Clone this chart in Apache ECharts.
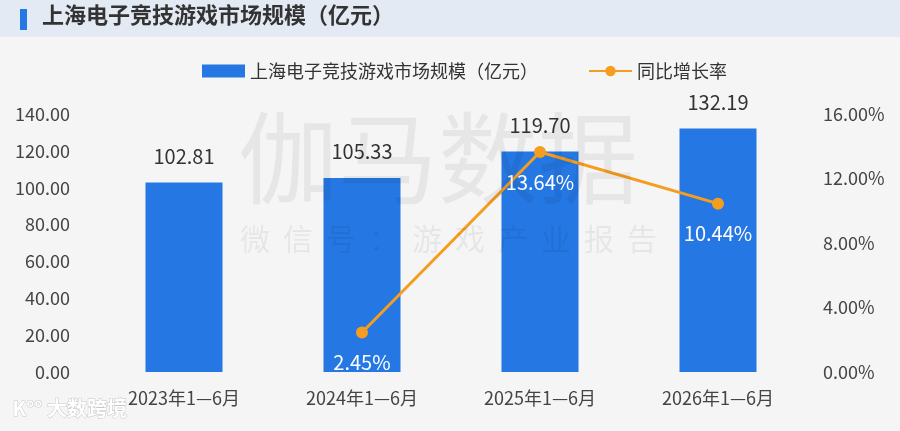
<!DOCTYPE html>
<html>
<head>
<meta charset="utf-8">
<script src="https://cdn.jsdelivr.net/npm/echarts@6/dist/echarts.min.js"></script>
<style>
  html, body { margin: 0; padding: 0; background: #f5f5f5; }
  #chart { width: 900px; height: 431px; }
</style>
</head>
<body>
<div id="chart"></div>
<script>
const categories = ['2023年1—6月', '2024年1—6月', '2025年1—6月', '2026年1—6月'];
const marketSize = [102.81, 105.33, 119.70, 132.19];
const growthRate = ['-', 2.45, 13.64, 10.44];

const FONT = '"Noto Sans CJK SC", "Noto Sans", sans-serif';

// watermark subtitle, one char at a time so it can be spaced out
const subMark = '微信号：游戏产业报告'.split('').map((ch, i) => ({
    type: 'text',
    left: 240 + i * 43,
    top: 224,
    z: 100,
    silent: true,
    style: { text: ch, fill: 'rgba(0,0,0,0.06)', font: '30px ' + FONT }
}));

const chart = echarts.init(document.getElementById('chart'));

chart.setOption({
    backgroundColor: '#f5f5f5',
    textStyle: { fontFamily: FONT },
    graphic: [
        {
            type: 'rect',
            shape: { x: 0, y: 0, width: 900, height: 37 },
            style: { fill: '#e4eaf3' }
        },
        {
            type: 'rect',
            shape: { x: 20, y: 9, width: 7, height: 21 },
            style: { fill: '#2577e3' }
        },
        {
            type: 'text',
            left: 42,
            top: 4,
            style: { text: '上海电子竞技游戏市场规模（亿元）', fill: '#333', font: 'bold 22px ' + FONT }
        },
        {
            type: 'text',
            left: 238,
            top: 108,
            z: 100,
            silent: true,
            style: { text: '伽马数据', fill: 'rgba(0,0,0,0.06)', font: '100px ' + FONT }
        },
        ...subMark,
        {
            type: 'text',
            left: 12,
            top: 398,
            z: 100,
            style: { text: 'K°° 大数跨境', fill: '#ffffff', stroke: '#c8c8c8', lineWidth: 1, font: 'bold 20px ' + FONT }
        }
    ],
    legend: {
        top: 57,
        left: 197,
        itemWidth: 43,
        itemHeight: 13,
        itemGap: 50,
        textStyle: { fontSize: 18, color: '#333' },
        data: [
            { name: '上海电子竞技游戏市场规模（亿元）', icon: 'rect' },
            { name: '同比增长率' }
        ]
    },
    grid: {
        left: 95,
        right: 93,
        top: 114,
        bottom: 59
    },
    xAxis: {
        type: 'category',
        data: categories,
        axisLine: { show: false },
        axisTick: { show: false },
        axisLabel: { color: '#444', fontSize: 18, margin: 17 }
    },
    yAxis: [
        {
            type: 'value',
            min: 0,
            max: 140,
            interval: 20,
            axisLine: { show: false },
            axisTick: { show: false },
            splitLine: { show: false },
            axisLabel: {
                color: '#444',
                fontSize: 18,
                margin: 25,
                formatter: v => v.toFixed(2)
            }
        },
        {
            type: 'value',
            min: 0,
            max: 16,
            interval: 4,
            axisLine: { show: false },
            axisTick: { show: false },
            splitLine: { show: false },
            axisLabel: {
                color: '#444',
                fontSize: 18,
                margin: 16,
                formatter: v => v.toFixed(2) + '%'
            }
        }
    ],
    series: [
        {
            name: '上海电子竞技游戏市场规模（亿元）',
            type: 'bar',
            data: marketSize,
            barWidth: 77,
            itemStyle: { color: '#2577e3' },
            label: {
                show: true,
                position: 'top',
                distance: 16,
                color: '#333',
                fontSize: 20,
                formatter: p => p.value.toFixed(2)
            }
        },
        {
            name: '同比增长率',
            type: 'line',
            yAxisIndex: 1,
            data: growthRate,
            symbol: 'circle',
            symbolSize: 12,
            lineStyle: { color: '#f59d1f', width: 3 },
            itemStyle: { color: '#f59d1f' },
            label: {
                show: true,
                position: 'bottom',
                distance: 14,
                color: '#ffffff',
                fontSize: 20,
                formatter: p => p.value.toFixed(2) + '%'
            }
        }
    ]
});
</script>
</body>
</html>
